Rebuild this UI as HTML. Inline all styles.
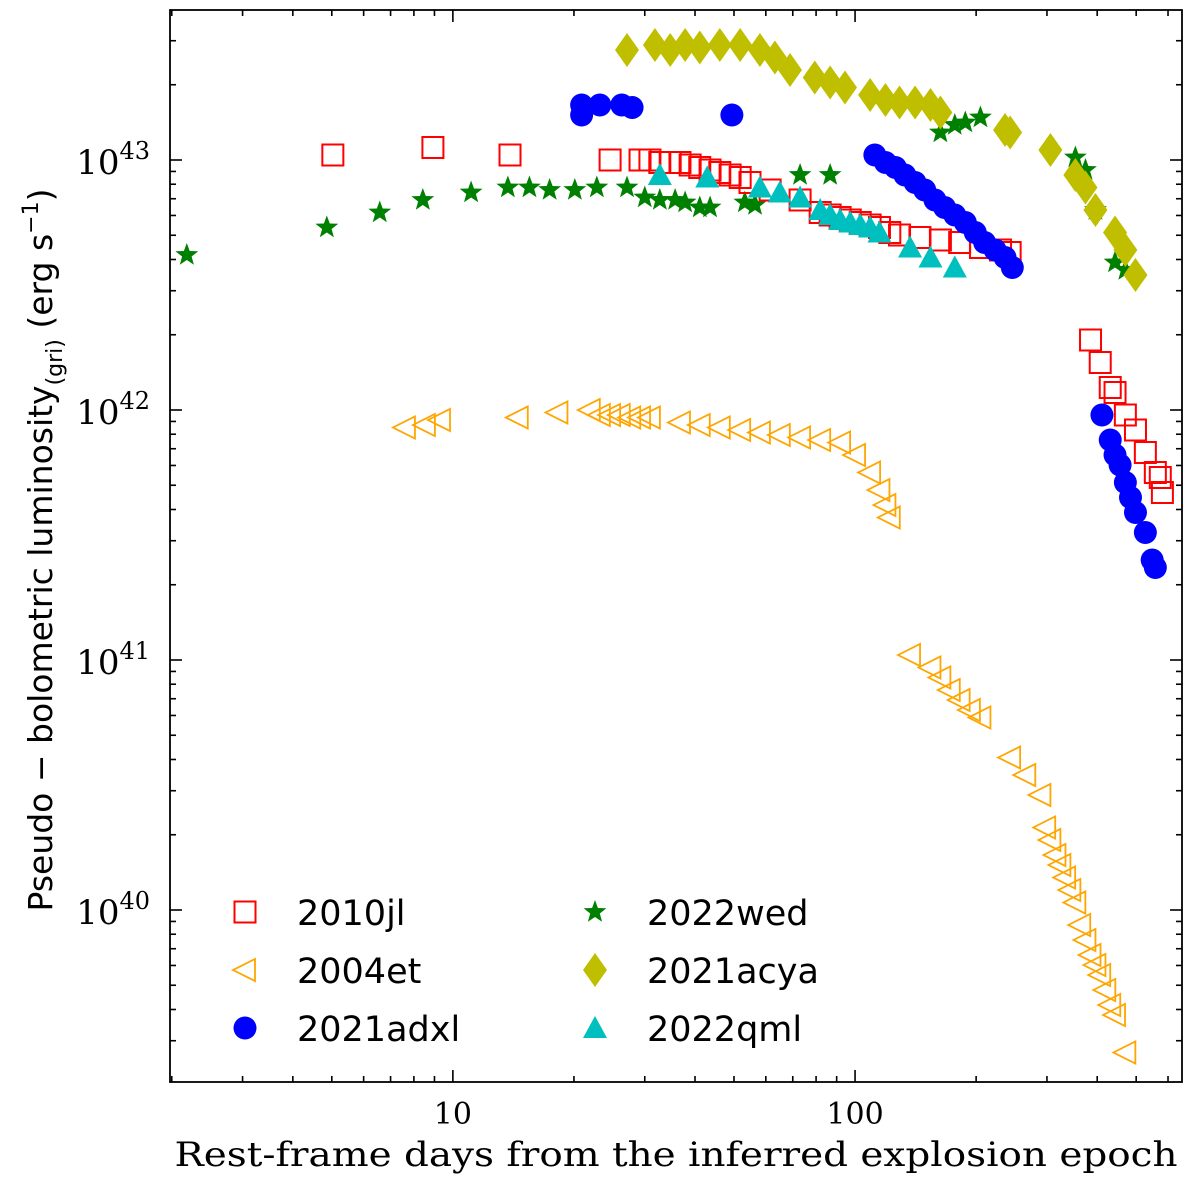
<!DOCTYPE html>
<html><head><meta charset="utf-8"><style>
html,body{margin:0;padding:0;background:#fff;}
svg{display:block;}
</style></head><body>
<svg id="chart" width="1200" height="1191" xmlns="http://www.w3.org/2000/svg"></svg>
<script>
// ---- data (days, log10 L) ----
const sn2010jl_days=[5.03,8.92,13.87,24.6,29.2,30.9,32.7,34.7,36.7,38.9,41.1,43.6,46.1,48.9,51.8,54.8,61.5,73,81.9,86.7,91.8,97.3,103,109,115,122,129,145,163,182,205,230,243,385,407,431,443,470,498,527,558,574,581];
const sn2010jl_logL=[43.02,43.05,43.02,43,43,43,42.99,42.99,42.99,42.98,42.97,42.96,42.95,42.94,42.93,42.91,42.88,42.84,42.79,42.78,42.77,42.76,42.75,42.74,42.73,42.71,42.70,42.69,42.68,42.67,42.65,42.64,42.63,42.28,42.19,42.09,42.07,41.98,41.92,41.83,41.75,41.73,41.67];
const sn2004et_days=[7.6,8.52,9.29,14.5,18.2,21.9,23.2,24.6,26.0,27.6,29.2,30.9,36.7,41.1,46.1,51.8,58.0,65.0,73,81.9,91.8,100,109,115,119,122,137,154,163,172,182,193,205,243,265,289,297,306,315,324,333,343,353,363,374,385,396,407,419,431,443,470];
const sn2004et_logL=[41.93,41.94,41.96,41.97,41.99,42.0,41.98,41.98,41.98,41.97,41.97,41.97,41.95,41.94,41.93,41.92,41.91,41.90,41.89,41.88,41.87,41.82,41.75,41.68,41.62,41.57,41.02,40.97,40.93,40.88,40.84,40.80,40.77,40.61,40.54,40.46,40.33,40.28,40.22,40.18,40.13,40.08,40.03,39.94,39.88,39.82,39.78,39.74,39.68,39.62,39.58,39.43];
const sn2021adxl_days=[20.9,20.9,23.2,26.3,27.9,49.4,112,119,126,133,141,149,158,167,177,188,199,210,223,236,246,411,431,443,456,470,484,498,527,548,558];
const sn2021adxl_logL=[43.22,43.18,43.22,43.22,43.21,43.18,43.02,42.99,42.97,42.94,42.91,42.88,42.84,42.81,42.78,42.75,42.71,42.67,42.64,42.61,42.57,41.98,41.88,41.82,41.78,41.71,41.65,41.59,41.51,41.40,41.37];
const sn2022wed_days=[2.18,4.86,6.58,8.42,11.1,13.7,15.5,17.4,20.1,22.8,27.1,30.0,32.7,35.7,37.8,41.1,43.6,53.2,56.4,73,86.7,163,177,188,205,353,374,396,443,470];
const sn2022wed_logL=[42.62,42.73,42.79,42.84,42.87,42.89,42.89,42.88,42.88,42.89,42.89,42.85,42.84,42.84,42.83,42.81,42.81,42.83,42.82,42.94,42.94,43.11,43.14,43.15,43.17,43.01,42.96,42.8,42.59,42.56];
const sn2021acya_days=[27.1,31.8,34.7,37.8,41.1,46.1,51.8,58,63.2,68.9,79.4,86.7,94.4,109,119,129,141,154,163,236,243,306,353,374,396,443,470,498];
const sn2021acya_logL=[43.44,43.46,43.44,43.46,43.45,43.46,43.46,43.44,43.41,43.36,43.33,43.31,43.29,43.26,43.24,43.23,43.23,43.22,43.19,43.12,43.11,43.04,42.94,42.89,42.8,42.71,42.64,42.54];
const sn2022qml_days=[32.7,42.9,58,65,73,81.9,86.7,91.8,97.3,103,109,115,137,154,177];
const sn2022qml_logL=[42.94,42.93,42.89,42.87,42.85,42.8,42.78,42.76,42.75,42.74,42.73,42.71,42.65,42.61,42.57];
const xTickLabels=["10","100"];
const yTickExps=["40","41","42","43"];

// ---- axes ----
const L=170,R=1182,T=10,B=1082;
const xMin=Math.log10(1.98),xMax=Math.log10(650);
const yMin=39.312,yMax=43.6;
const sx=d=>L+(Math.log10(d)-xMin)/(xMax-xMin)*(R-L);
const sy=v=>B-(v-yMin)/(yMax-yMin)*(B-T);
const NS="http://www.w3.org/2000/svg";
const svg=document.getElementById('chart');
function mk(tag,attrs,parent){const e=document.createElementNS(NS,tag);for(const k in attrs)e.setAttribute(k,attrs[k]);(parent||svg).appendChild(e);return e;}

// ticks
const ticks=mk('g',{});


for(let dec=1;dec<=1000;dec*=10){for(let m=1;m<10;m++){const d=dec*m;const x=sx(d);if(x<L||x>R)continue;const len=m===1?12:6;
 mk('line',{x1:x,x2:x,y1:B,y2:B-len,stroke:'#000','stroke-width':1.6},ticks);mk('line',{x1:x,x2:x,y1:T,y2:T+len,stroke:'#000','stroke-width':1.6},ticks);}}
for(let e=39;e<44;e++){for(let m=1;m<10;m++){const v=e+Math.log10(m);const y=sy(v);if(y<T||y>B)continue;const len=m===1?12:6;
 mk('line',{x1:L,x2:L+len,y1:y,y2:y,stroke:'#000','stroke-width':1.6},ticks);mk('line',{x1:R,x2:R-len,y1:y,y2:y,stroke:'#000','stroke-width':1.6},ticks);}}
// x tick labels
[10,100].forEach((d,i)=>{const t=mk('text',{x:sx(d),y:B+42,'text-anchor':'middle','font-family':'DejaVu Serif, Liberation Serif, serif','font-size':30});t.textContent=xTickLabels[i];
 });
yTickExps.forEach(e=>{const y=sy(+e);const t=mk('text',{x:L-20,y:y+14,'text-anchor':'end','font-family':'DejaVu Serif, Liberation Serif, serif','font-size':34});
 t.innerHTML='10<tspan dy="-15" font-size="24">'+e+'</tspan>';
 });

// markers
function marker(g,type,x,y){
 if(type==='sq')mk('rect',{x:x-10.5,y:y-10.5,width:21,height:21,fill:'none',stroke:'#ff0000','stroke-width':2},g);
 else if(type==='tl')mk('polygon',{points:`${x-12},${y} ${x+10},${y-11} ${x+10},${y+11}`,fill:'none',stroke:'#ffa500','stroke-width':1.8},g);
 else if(type==='ci')mk('circle',{cx:x,cy:y,r:11.5,fill:'#0000ff'},g);
 else if(type==='st'){let p=[];for(let i=0;i<10;i++){const r=i%2?5:12;const a=-Math.PI/2+i*Math.PI/5;p.push((x+r*Math.cos(a)).toFixed(1)+','+(y+r*Math.sin(a)).toFixed(1));}mk('polygon',{points:p.join(' '),fill:'#008000'},g);}
 else if(type==='di')mk('polygon',{points:`${x},${y-17} ${x+12},${y} ${x},${y+17} ${x-12},${y}`,fill:'#bfbf00'},g);
 else if(type==='tu')mk('polygon',{points:`${x},${y-12} ${x+12},${y+10} ${x-12},${y+10}`,fill:'#00bfbf'},g);
}
const series=[
 ['series-2004et','tl',sn2004et_days,sn2004et_logL],
 ['series-2022wed','st',sn2022wed_days,sn2022wed_logL],
 ['series-2021acya','di',sn2021acya_days,sn2021acya_logL],
 ['series-2010jl','sq',sn2010jl_days,sn2010jl_logL],
 ['series-2021adxl','ci',sn2021adxl_days,sn2021adxl_logL],
 ['series-2022qml','tu',sn2022qml_days,sn2022qml_logL]];
series.forEach(s=>{const g=mk('g',{});
 
 
 s[2].forEach((d,i)=>marker(g,s[1],sx(d),sy(s[3][i])));});

// frame
const fr=mk('rect',{x:L,y:T,width:R-L,height:B-T,fill:'none',stroke:'#000','stroke-width':1.8});



// legend
const lg=mk('g',{});


const items=[['sq','2010jl',245,912],['tl','2004et',245,970],['ci','2021adxl',245,1028],['st','2022wed',595,912],['di','2021acya',595,970],['tu','2022qml',595,1028]];
items.forEach(it=>{const e=mk('g',{},lg);
 
 
 marker(e,it[0],it[2],it[3]);
 const t=mk('text',{x:it[2]+52,y:it[3]+13,'font-family':'DejaVu Sans, Liberation Sans, sans-serif','font-size':35},e);t.textContent=it[1];});

// axis titles
const xt=mk('text',{x:676,y:1166,'text-anchor':'middle','font-family':'DejaVu Serif, Liberation Serif, serif','font-size':34,textLength:1003,lengthAdjust:'spacingAndGlyphs'});
xt.textContent='Rest-frame days from the inferred explosion epoch';


const yt=mk('text',{x:0,y:0,'text-anchor':'middle','font-family':'DejaVu Sans, Liberation Sans, sans-serif','font-size':33,transform:'translate(52,550) rotate(-90)'});
yt.innerHTML='Pseudo − bolometric luminosity<tspan dy="10" font-size="22">(gri)</tspan><tspan dy="-10"> (erg s</tspan><tspan dy="-14" font-size="22">−1</tspan><tspan dy="14">)</tspan>';


</script>
</body></html>
